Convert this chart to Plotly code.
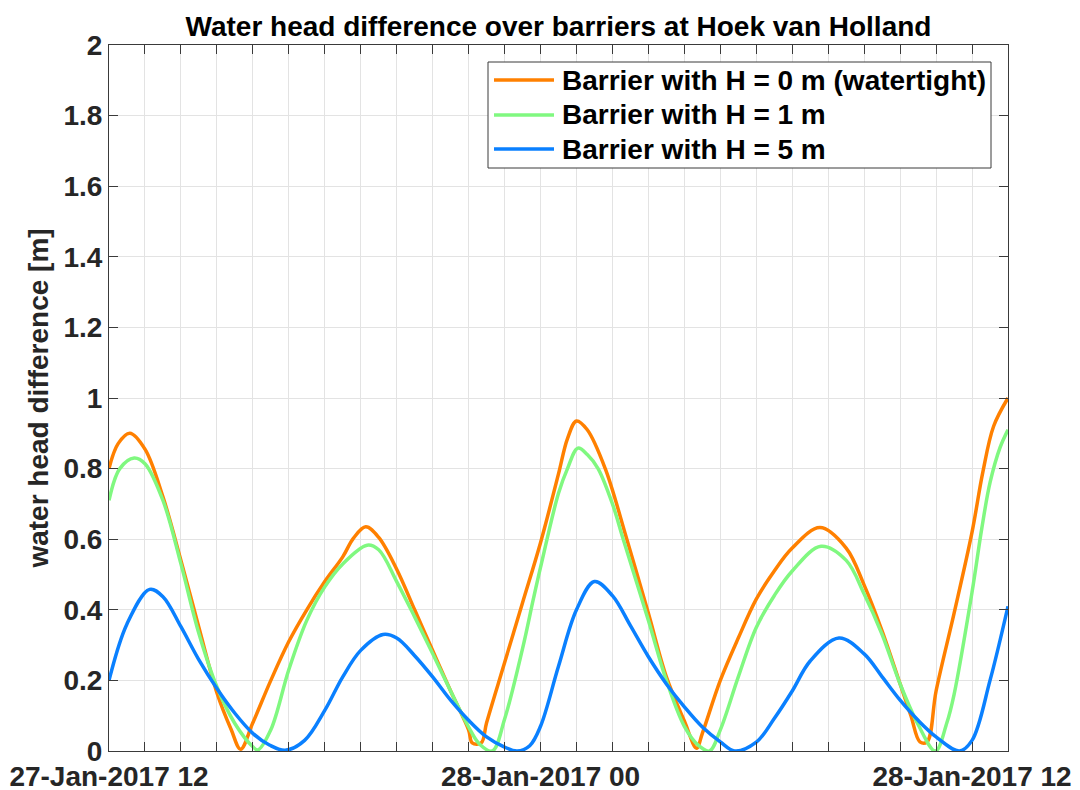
import pandas as pd
import plotly.graph_objects as go

# ---- data (hours after 27-Jan-2017 12:00, water head difference in m) ----
base_time = "2017-01-27 12:00"

h0_hours = [0.0, 0.25, 0.58, 1.0, 1.5, 2.0, 2.5, 3.0, 3.4, 3.66, 4.0, 4.5, 5.0, 5.5, 6.0, 6.5,
            6.8, 7.14, 7.5, 8.0, 8.5, 9.0, 9.5, 10.0, 10.1, 10.35, 10.5, 11.0, 11.5, 12.0,
            12.5, 12.75, 13.0, 13.3, 13.8, 14.4, 15.0, 15.5, 16.0, 16.34, 16.5, 17.0, 17.5,
            18.0, 18.5, 19.0, 19.77, 20.5, 21.0, 21.5, 22.0, 22.3, 22.55, 22.75, 23.0, 23.5,
            24.0, 24.3, 24.6, 25.0]
h0_values = [0.80, 0.87, 0.90, 0.855, 0.72, 0.54, 0.35, 0.165, 0.06, 0.005, 0.08, 0.20, 0.31,
             0.40, 0.48, 0.55, 0.603, 0.635, 0.605, 0.515, 0.40, 0.285, 0.17, 0.06, 0.023,
             0.023, 0.08, 0.25, 0.42, 0.59, 0.785, 0.885, 0.935, 0.91, 0.80, 0.60, 0.39, 0.21,
             0.085, 0.008, 0.05, 0.20, 0.32, 0.43, 0.51, 0.575, 0.633, 0.575, 0.47, 0.34, 0.19,
             0.10, 0.026, 0.026, 0.17, 0.39, 0.62, 0.79, 0.92, 1.0]

h1_hours = [0.0, 0.3, 0.7, 1.0, 1.5, 2.0, 2.5, 3.0, 3.5, 4.0, 4.14, 4.5, 5.0, 5.5, 6.0, 6.5,
            7.18, 7.5, 8.0, 8.5, 9.0, 9.5, 10.0, 10.3, 10.66, 11.0, 11.5, 11.8, 12.0, 12.5,
            12.75, 13.04, 13.3, 13.6, 14.0, 14.3, 15.0, 15.5, 16.0, 16.4, 16.7, 17.0, 17.5,
            18.0, 18.5, 19.0, 19.8, 20.5, 21.0, 21.5, 22.0, 22.5, 22.98, 23.3, 23.5, 24.0,
            24.27, 24.5, 24.78, 25.0]
h1_values = [0.71, 0.80, 0.83, 0.814, 0.71, 0.53, 0.333, 0.182, 0.078, 0.012, 0.003, 0.06,
             0.23, 0.37, 0.465, 0.53, 0.583, 0.57, 0.48, 0.38, 0.276, 0.17, 0.068, 0.02, 0.0,
             0.09, 0.29, 0.43, 0.52, 0.73, 0.80, 0.858, 0.84, 0.80, 0.70, 0.60, 0.37, 0.20,
             0.07, 0.015, 0.0, 0.06, 0.21, 0.35, 0.44, 0.51, 0.58, 0.54, 0.445, 0.33, 0.19,
             0.075, 0.0, 0.08, 0.16, 0.45, 0.63, 0.76, 0.86, 0.91]

h5_hours = [0.0, 0.5, 1.13, 1.5, 2.0, 2.5, 3.0, 3.5, 4.0, 4.46, 4.9, 5.44, 6.0, 6.5, 7.0, 7.62,
            8.0, 8.5, 9.0, 9.5, 10.0, 10.5, 11.0, 11.35, 11.7, 12.0, 12.5, 13.0, 13.5, 14.0,
            14.5, 15.0, 15.5, 16.0, 16.5, 17.0, 17.4, 18.0, 18.5, 19.0, 19.5, 20.3, 21.0, 21.5,
            22.0, 22.5, 23.0, 23.65, 24.0, 24.5, 25.0]
h5_values = [0.20, 0.36, 0.458, 0.437, 0.352, 0.258, 0.177, 0.107, 0.05, 0.017, 0.002, 0.03,
             0.115, 0.21, 0.285, 0.33, 0.32, 0.27, 0.21, 0.144, 0.087, 0.04, 0.011, 0.0, 0.015,
             0.07, 0.24, 0.40, 0.48, 0.44, 0.355, 0.267, 0.19, 0.125, 0.068, 0.026, 0.0, 0.025,
             0.092, 0.17, 0.255, 0.32, 0.275, 0.21, 0.144, 0.087, 0.04, 0.0, 0.03, 0.20, 0.41]

series_names = ["Barrier with H = 0 m (watertight)", "Barrier with H = 1 m", "Barrier with H = 5 m"]
series_colors = ["#ff8000", "#80f880", "#0a80ff"]

label_hours = [0, 12, 24]
y_ticks = [0, 0.2, 0.4, 0.6, 0.8, 1, 1.2, 1.4, 1.6, 1.8, 2]
y_ticktext = ["0", "0.2", "0.4", "0.6", "0.8", "1", "1.2", "1.4", "1.6", "1.8", "2"]

# ---- build figure ----
t0 = pd.Timestamp(base_time)


def to_time(hours):
    return [t0 + pd.Timedelta(hours=h) for h in hours]


FONT = "Liberation Sans, Arial, Helvetica, sans-serif"
FS = 28

fig = go.Figure()
for hrs, vals, name, col in zip([h0_hours, h1_hours, h5_hours],
                                [h0_values, h1_values, h5_values],
                                series_names, series_colors):
    fig.add_trace(go.Scatter(x=to_time(hrs), y=vals, mode="lines", name=name,
                             showlegend=False,
                             line=dict(color=col, width=3.5, shape="spline", smoothing=1.0)))

tick_times = [t0 + pd.Timedelta(hours=k) for k in range(0, 26)]
tick_text = [tt.strftime("%d-%b-%Y %H") if k in label_hours else "" for k, tt in enumerate(tick_times)]

axis_col = "#3a3a3a"
grid_col = "#e3e3e3"

W, H = 1072, 782
ML, MR, MT, MB = 101, 72, 37, 39
PW, PH = W - ML - MR, H - MT - MB


def px_to_paper_x(fx):
    return (fx - ML) / PW


def px_to_paper_y(fy):
    return (H - MB - fy) / PH


# legend box drawn in paper coordinates (figure pixel positions)
box_l, box_r, box_t, box_b = 480, 983, 54, 160
row_y = [72, 107, 141]
line_l, line_r, text_l = 486, 546, 552

shapes = [dict(type="rect", xref="paper", yref="paper",
               x0=px_to_paper_x(box_l), x1=px_to_paper_x(box_r),
               y0=px_to_paper_y(box_b), y1=px_to_paper_y(box_t),
               line=dict(color="#3a3a3a", width=1), fillcolor="white", layer="above")]
annotations = []
for name, col, ry in zip(series_names, series_colors, row_y):
    shapes.append(dict(type="line", xref="paper", yref="paper",
                       x0=px_to_paper_x(line_l), x1=px_to_paper_x(line_r),
                       y0=px_to_paper_y(ry), y1=px_to_paper_y(ry),
                       line=dict(color=col, width=3.5), layer="above"))
    annotations.append(dict(text=name, xref="paper", yref="paper",
                            x=px_to_paper_x(text_l), y=px_to_paper_y(ry),
                            xanchor="left", yanchor="middle", showarrow=False,
                            font=dict(family=FONT, size=FS, color="black", weight="bold")))

fig.update_layout(
    width=W, height=H,
    margin=dict(l=ML, r=MR, t=MT, b=MB, autoexpand=False),
    paper_bgcolor="white", plot_bgcolor="white",
    font=dict(family=FONT, size=FS, color="#262626", weight="bold"),
    title=dict(text="Water head difference over barriers at Hoek van Holland",
               font=dict(family=FONT, size=FS, color="black", weight="bold"),
               x=(ML + (W - MR)) / 2 / W, xanchor="center", xref="container",
               y=1 - 18 / H, yanchor="middle", yref="container"),
    showlegend=False,
    shapes=shapes,
    annotations=annotations,
)

fig.update_xaxes(
    type="date",
    range=[t0, t0 + pd.Timedelta(hours=25)],
    tickmode="array", tickvals=tick_times, ticktext=tick_text,
    ticks="inside", ticklen=9, tickwidth=1, tickcolor=axis_col,
    showline=True, linecolor=axis_col, linewidth=1, mirror="ticks",
    showgrid=True, gridcolor=grid_col, gridwidth=1,
    zeroline=False,
    tickfont=dict(family=FONT, size=FS, color="#262626", weight="bold"),
    tickangle=0,
)
fig.update_yaxes(
    range=[0, 2],
    tickmode="array", tickvals=y_ticks, ticktext=y_ticktext,
    ticks="inside", ticklen=9, tickwidth=1, tickcolor=axis_col,
    showline=True, linecolor=axis_col, linewidth=1, mirror="ticks",
    showgrid=True, gridcolor=grid_col, gridwidth=1,
    zeroline=False,
    tickfont=dict(family=FONT, size=FS, color="#262626", weight="bold"),
    title=dict(text="water head difference [m]", standoff=6,
               font=dict(family=FONT, size=FS, color="#262626", weight="bold")),
)

fig.write_html("out.html")
